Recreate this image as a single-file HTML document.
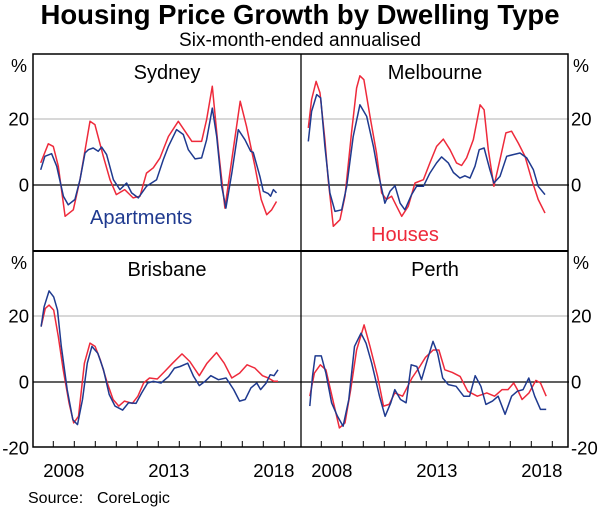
<!DOCTYPE html>
<html><head><meta charset="utf-8"><style>
body{margin:0;background:#fff}
svg text{font-family:"Liberation Sans",Arial,sans-serif}
</style></head><body>
<svg id="c" width="600" height="508" viewBox="0 0 600 508" xmlns="http://www.w3.org/2000/svg">
<text x="300" y="24" text-anchor="middle" font-size="27.5" font-weight="bold">Housing Price Growth by Dwelling Type</text>
<text x="300" y="46" text-anchor="middle" font-size="19">Six-month-ended annualised</text>
<text x="28" y="503" font-size="16">Source:</text>
<text x="97" y="503" font-size="16">CoreLogic</text>
<g id="g"></g>
</svg>
<script>
const yTicks=[20,0,-20];
const xTickYears=[2008,2009,2010,2011,2012,2013,2014,2015,2016,2017,2018,2019];
const xLabels=[2008,2013,2018];
const cities=["Sydney","Melbourne","Brisbane","Perth"];
const sydH=[[2007.4,6.7],[2007.76,12.5],[2008,11.7],[2008.24,5.7],[2008.56,-9.5],[2008.95,-7.5],[2009.27,1.6],[2009.75,19.3],[2009.98,18.3],[2010.38,8.7],[2010.7,1.6],[2011,-2.9],[2011.4,-1.4],[2011.8,-3.9],[2012.13,-3.4],[2012.44,3.6],[2012.76,5.2],[2013.08,8.2],[2013.48,14.7],[2013.95,19.3],[2014.27,16.3],[2014.6,13.2],[2015.06,13.2],[2015.3,19.8],[2015.57,29.9],[2015.86,10.7],[2016.17,-7],[2016.5,7.7],[2016.9,25.4],[2017.2,17.8],[2017.6,5.7],[2017.9,-4.4],[2018.16,-9],[2018.4,-7.5],[2018.63,-5]];
const sydA=[[2007.4,4.6],[2007.6,8.7],[2007.92,9.5],[2008.16,5.7],[2008.48,-3.4],[2008.71,-6],[2009.03,-4.4],[2009.27,1.6],[2009.51,9.7],[2009.67,10.7],[2009.9,11.2],[2010.14,10.2],[2010.3,11.5],[2010.54,9.2],[2010.86,1.6],[2011.17,-1.4],[2011.49,0.6],[2011.73,-2.4],[2012.05,-3.9],[2012.44,-0.4],[2012.92,1.6],[2013.24,7.7],[2013.48,11.7],[2013.87,16.8],[2014.19,15.3],[2014.43,10.7],[2014.75,7.9],[2015.06,8.2],[2015.3,13.7],[2015.57,23.3],[2015.78,14.7],[2016.02,-0.4],[2016.22,-7],[2016.5,3.6],[2016.81,16.8],[2017.13,13.7],[2017.4,10.2],[2017.52,9.9],[2017.84,2.6],[2018,-1.9],[2018.24,-2.6],[2018.35,-3.4],[2018.48,-1.4],[2018.63,-2.4]];
const melH=[[2007.38,17.3],[2007.54,25.9],[2007.75,31.4],[2007.94,27.9],[2008.17,13.7],[2008.33,1.6],[2008.57,-12.5],[2008.89,-10.5],[2009.13,-3.4],[2009.44,15.8],[2009.68,29.4],[2009.84,33.1],[2010.03,31.9],[2010.32,20.8],[2010.63,9.7],[2010.87,-2.4],[2011.1,-4.4],[2011.35,-3.4],[2011.59,-6.5],[2011.83,-9.5],[2012.14,-6.5],[2012.46,0.6],[2012.86,1.6],[2013.17,6.7],[2013.49,11.7],[2013.81,13.9],[2014.13,10.7],[2014.44,6.7],[2014.68,5.9],[2014.92,8.2],[2015.24,13.7],[2015.56,24.3],[2015.75,22.8],[2015.95,10.7],[2016.22,-0.4],[2016.51,7.7],[2016.79,15.8],[2017.06,16.3],[2017.38,12.7],[2017.7,8.7],[2018.02,1.6],[2018.33,-4.4],[2018.65,-8.5]];
const melA=[[2007.38,13.2],[2007.54,22.3],[2007.78,27.4],[2007.97,26.4],[2008.17,11.7],[2008.41,-2.4],[2008.65,-8],[2008.97,-7.5],[2009.21,-0.4],[2009.52,14.7],[2009.84,24.3],[2010.16,20.8],[2010.48,11.7],[2010.71,3.6],[2011.03,-5.5],[2011.27,-1.9],[2011.51,-0.2],[2011.75,-5.5],[2011.98,-7.5],[2012.3,-2.9],[2012.54,-0.4],[2012.86,-0.4],[2013.17,3.6],[2013.49,6.7],[2013.73,8.5],[2014.05,6.7],[2014.29,3.8],[2014.6,2.1],[2014.84,2.8],[2015.08,2.1],[2015.32,5.7],[2015.52,10.7],[2015.75,11.2],[2016.03,4.6],[2016.22,0.6],[2016.51,2.6],[2016.83,8.7],[2017.14,9.2],[2017.46,9.7],[2017.78,8.2],[2018.1,4.6],[2018.33,-0.4],[2018.65,-2.9]];
const brbH=[[2007.42,16.8],[2007.62,22.3],[2007.8,23.3],[2008.02,21.8],[2008.24,13.8],[2008.47,3.7],[2008.75,-6.3],[2008.97,-12.4],[2009.2,-10.4],[2009.48,5.7],[2009.75,11.8],[2009.99,10.8],[2010.24,6.7],[2010.57,-0.3],[2010.85,-5.3],[2011.12,-7.3],[2011.39,-5.8],[2011.76,-6.5],[2012.03,-4.3],[2012.3,-0.3],[2012.58,1.2],[2012.95,0.9],[2013.31,3.2],[2013.68,5.7],[2014.13,8.5],[2014.5,6.2],[2014.95,1.9],[2015.32,5.7],[2015.77,8.9],[2016.14,5.7],[2016.5,1.2],[2016.87,2.7],[2017.23,5.2],[2017.6,4.2],[2017.96,1.9],[2018.24,1.2],[2018.5,0.2],[2018.7,0.2]];
const brbA=[[2007.42,16.8],[2007.56,22.8],[2007.8,27.6],[2008.02,25.8],[2008.2,21.8],[2008.38,10.8],[2008.66,-2.3],[2008.93,-11.4],[2009.15,-12.9],[2009.39,-5.3],[2009.62,5.7],[2009.84,10.8],[2010.12,8.7],[2010.39,3.7],[2010.66,-3.8],[2010.94,-7.3],[2011.3,-8.5],[2011.58,-6.3],[2011.94,-6.5],[2012.21,-3.3],[2012.49,-0.3],[2012.76,0.2],[2013.13,-0.3],[2013.49,1.7],[2013.77,4.2],[2014.04,4.7],[2014.4,5.7],[2014.68,1.7],[2014.95,-1.1],[2015.23,0.2],[2015.5,1.9],[2015.86,0.7],[2016.23,1.2],[2016.59,-2.3],[2016.87,-5.8],[2017.14,-5.3],[2017.41,-1.8],[2017.69,-0.3],[2017.87,-2.3],[2018.14,-0.3],[2018.33,2.2],[2018.51,1.9],[2018.7,3.7]];
const perH=[[2007.45,-4.3],[2007.67,2.7],[2007.95,5.2],[2008.22,3.7],[2008.58,-6.3],[2008.86,-13.9],[2009.13,-12.4],[2009.4,-2.3],[2009.68,9.7],[2010.04,17.3],[2010.32,10.8],[2010.68,1.7],[2010.96,-7.3],[2011.23,-6.8],[2011.5,-3.3],[2011.87,-4.3],[2012.32,1.2],[2012.69,4.7],[2012.96,7.5],[2013.33,9.7],[2013.6,9.7],[2013.88,3.7],[2014.24,2.9],[2014.61,1.7],[2014.97,-2.8],[2015.43,-4.3],[2015.88,-3.3],[2016.25,-4.3],[2016.61,-2.3],[2016.89,-2.3],[2017.16,-0.3],[2017.34,-2.3],[2017.56,-5.3],[2017.89,-3.3],[2018.22,0.5],[2018.44,-0.3],[2018.71,-4.3]];
const perA=[[2007.45,-7.3],[2007.58,1.7],[2007.71,7.9],[2008,7.9],[2008.22,2.7],[2008.49,-6.3],[2008.77,-10.4],[2009.04,-13.4],[2009.31,-5.3],[2009.58,10.8],[2009.89,14.8],[2010.13,11.8],[2010.4,5.7],[2010.77,-4.3],[2011.04,-10.4],[2011.31,-6.3],[2011.5,-2.3],[2011.77,-5.3],[2012.04,-6.3],[2012.28,5.2],[2012.55,4.7],[2012.77,0.7],[2013.05,6.7],[2013.32,12.3],[2013.54,8.7],[2013.78,1.2],[2014.05,-0.8],[2014.42,-1.3],[2014.78,-4.3],[2015.06,-4.3],[2015.33,1.9],[2015.6,-1.3],[2015.84,-6.8],[2016.15,-5.8],[2016.42,-4.3],[2016.75,-9.8],[2017.06,-4.3],[2017.34,-2.8],[2017.61,-2.3],[2017.88,1.2],[2018.16,-4.3],[2018.44,-8.3],[2018.71,-8.3]];
const housesSeries=[sydH,melH,brbH,perH];
const apartmentsSeries=[sydA,melA,brbA,perA];

const NS="http://www.w3.org/2000/svg";
const g=document.getElementById('g');
const L=33,M=301,R=568,T=54,MID=251,B=447,PW=268;
const panels=[{x0:L,y0:T},{x0:M,y0:T},{x0:L,y0:MID},{x0:M,y0:MID}];
function xs(p,yr){return panels[p].x0+20.3+(yr-2008)*21;}
function ys(p,v){return panels[p].y0+131-v*3.3;}
function mk(tag,attrs){const e=document.createElementNS(NS,tag);for(const k in attrs)e.setAttribute(k,attrs[k]);g.appendChild(e);return e;}

for(let p=0;p<4;p++){
  const gl=mk('line',{x1:panels[p].x0,x2:panels[p].x0+PW,y1:ys(p,20),y2:ys(p,20),stroke:'#b0b0b0','stroke-width':1});
  
  
  const zl=mk('line',{x1:panels[p].x0,x2:panels[p].x0+PW,y1:ys(p,0),y2:ys(p,0),stroke:'#000','stroke-width':1.2});
  
  
  const t=mk('text',{x:panels[p].x0+PW/2,y:panels[p].y0+25,'text-anchor':'middle','font-size':20});
  t.textContent=cities[p];
  
  
  const pts=(s)=>s.map(d=>xs(p,d[0]).toFixed(1)+','+ys(p,d[1]).toFixed(1)).join(' ');
  const h=mk('polyline',{points:pts(housesSeries[p]),fill:'none',stroke:'#ee2a3b','stroke-width':1.5,'stroke-linejoin':'round'});
  
  
  const a=mk('polyline',{points:pts(apartmentsSeries[p]),fill:'none',stroke:'#1f3a8f','stroke-width':1.5,'stroke-linejoin':'round'});
  
  
}
const fr=mk('rect',{x:L,y:T,width:R-L,height:B-T,fill:'none',stroke:'#000','stroke-width':1.5});


const vd=mk('line',{x1:M,x2:M,y1:T,y2:B,stroke:'#000','stroke-width':1.3});


const hd=mk('line',{x1:L,x2:R,y1:MID,y2:MID,stroke:'#000','stroke-width':2});


for(const p of [2,3]){
  for(const yr of xTickYears){
    const tk=mk('line',{x1:xs(p,yr),x2:xs(p,yr),y1:B,y2:B-6,stroke:'#000','stroke-width':1});
    
    
  }
  for(const yr of xLabels){
    const tl=mk('text',{x:xs(p,yr)+10.5,y:477,'text-anchor':'middle','font-size':18.5});
    tl.textContent=yr;
    
    
  }
}
for(const row of [0,1]){
  const p=row*2;
  for(const v of yTicks){
    if(row===0&&v===-20)continue;
    const yy=ys(p,v)+6.5;
    const l1=mk('text',{x:29,y:yy,'text-anchor':'end','font-size':18.5});
    l1.textContent=v;
    
    
    const l2=mk('text',{x:571,y:yy,'text-anchor':'start','font-size':18.5});
    l2.textContent=v;
    
    
  }
  const py=panels[p].y0+18;
  const u1=mk('text',{x:19,y:py,'text-anchor':'middle','font-size':18});
  u1.textContent='%';
  
  
  const u2=mk('text',{x:581,y:py,'text-anchor':'middle','font-size':18});
  u2.textContent='%';
  
  
}
const la=mk('text',{x:90,y:224,'font-size':20,fill:'#1f3a8f'});
la.textContent='Apartments';


const lh=mk('text',{x:371,y:241,'font-size':20,fill:'#ee2a3b'});
lh.textContent='Houses';


</script>
</body></html>
